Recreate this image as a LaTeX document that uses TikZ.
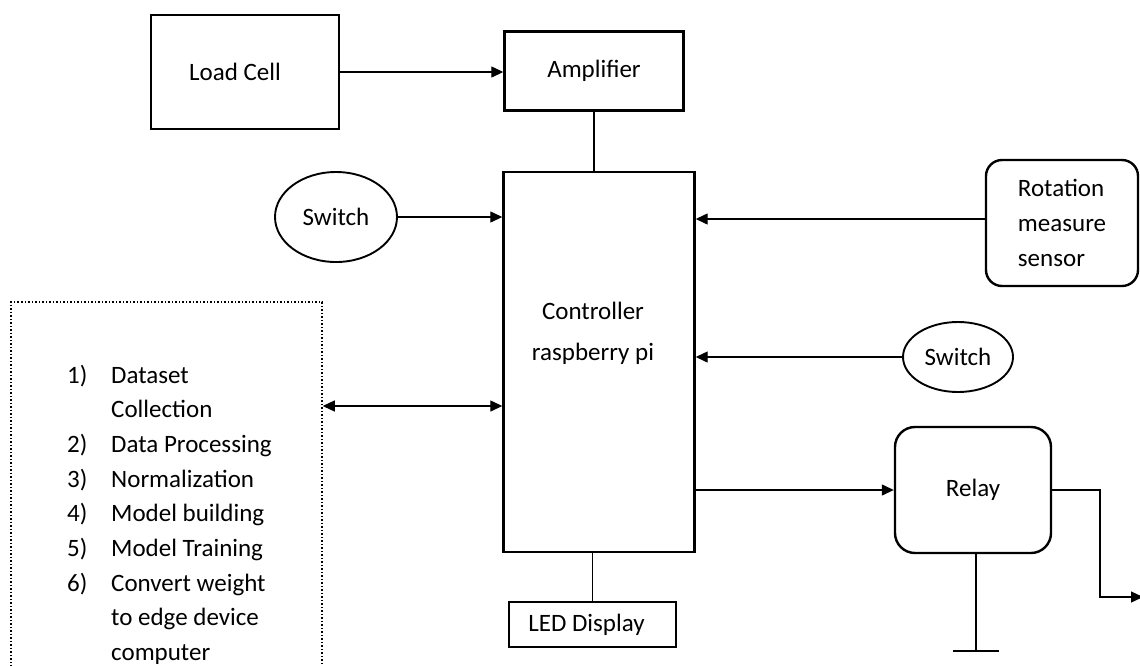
\documentclass[tikz,border=0pt]{standalone}
\usepackage{fontspec}
\setmainfont{Carlito}
\usetikzlibrary{arrows.meta,shapes.geometric}
\tikzset{
  txt/.style={font=\fontsize{25}{34.7}\selectfont},
  box/.style={draw, line width=2.4pt, rectangle, inner sep=0pt, txt},
  rbox/.style={box, rounded corners=18pt},
  oval/.style={draw, line width=1.9pt, ellipse, inner sep=0pt, txt},
  dotbox/.style={draw, line width=1.5pt, dotted, rectangle, inner sep=0pt},
  conn/.style={line width=1.3pt},
  arr/.style={conn, -{Triangle[length=12pt,width=11pt]}},
  arrboth/.style={conn, {Triangle[length=12pt,width=11pt]}-{Triangle[length=12pt,width=11pt]}},
}
\begin{document}
\begin{tikzpicture}[x=1pt,y=-1pt]
\clip (0,0) rectangle (1140,665);
\fill[white] (0,0) rectangle (1140,665);
% nodes
\node[box, minimum width=188, minimum height=114] (lc) at (245,72) {\hspace*{-20pt}Load Cell};
\node[box, minimum width=179, minimum height=79] (amp) at (594,71) {Amplifier};
\node[box, minimum width=191, minimum height=380] (ctrl) at (599,362) {};
\node[font=\fontsize{25}{41}\selectfont, align=center, inner sep=0pt] (ctrltxt) at (593,333) {Controller\\raspberry pi};
\node[oval, minimum width=122, minimum height=90] (sw1) at (336,217) {Switch};
\node[rbox, rounded corners=16pt, minimum width=152, minimum height=126, align=left] (rot) at (1062,223) {Rotation\\measure\\sensor};
\node[oval, minimum width=110, minimum height=70] (sw2) at (958,357) {Switch};
\node[dotbox, minimum width=311, minimum height=380] (ml) at (166.5,492) {};
\node[txt, inner sep=0pt, anchor=base west] (list) at (67,383) {%
\begin{tabular}[t]{@{}p{44pt}@{}l@{}}
1) & Dataset\\
   & Collection\\
2) & Data Processing\\
3) & Normalization\\
4) & Model building\\
5) & Model Training\\
6) & Convert weight\\
   & to edge device\\
   & computer
\end{tabular}};
\node[rbox, rounded corners=20pt, minimum width=156, minimum height=126] (relay) at (973,490) {Relay};
\node[box, minimum width=167, minimum height=45] (led) at (592.5,624.5) {\hspace*{-12pt}LED Display};
\coordinate (out) at (1143,597);
\coordinate (gnd) at (976,651);
% connectors
\draw[arr] (lc.east) -- (lc.east -| amp.west);
\draw[conn] (amp.south) -- (amp.south |- ctrl.north);
\draw[arr] (sw1.east) -- (sw1.east -| ctrl.west);
\draw[arr] (rot.west |- 0,219) -- (ctrl.east |- 0,219);
\draw[arr] (sw2.west) -- (sw2.west -| ctrl.east);
\draw[arrboth] ([yshift=86pt]ml.east) -- ([yshift=86pt]ml.east -| ctrl.west);
\draw[arr] (ctrl.east |- relay.west) -- (relay.west);
\draw[arr] (relay.east) -| ([xshift=-43pt]out) -- (out);
\draw[conn] (relay.south -| gnd) -- (gnd);
\draw[conn] ([xshift=-23pt]gnd) -- ([xshift=23pt]gnd);
\draw[conn] (led.north |- ctrl.south) -- (led.north);
\end{tikzpicture}
\end{document}
